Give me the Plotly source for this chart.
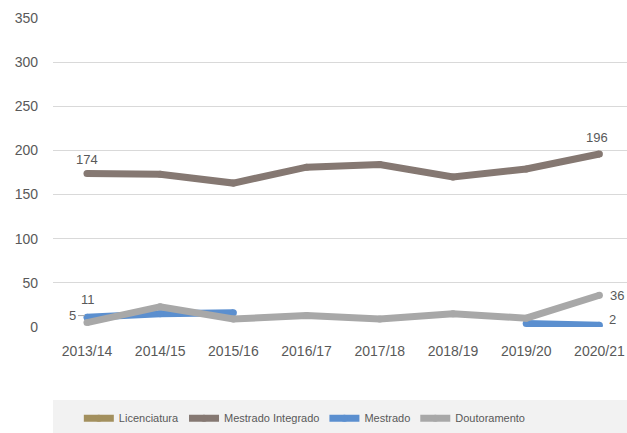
import plotly.graph_objects as go

categories = ["2013/14", "2014/15", "2015/16", "2016/17", "2017/18", "2018/19", "2019/20", "2020/21"]
licenciatura = [None, None, None, None, None, None, None, None]
mestrado_integrado = [174, 173, 163, 181, 184, 170, 179, 196]
mestrado = [11, 15, 16, None, None, None, 4, 2]
doutoramento = [5, 23, 9, 13, 9, 15, 10, 36]
y_ticks = [0, 50, 100, 150, 200, 250, 300, 350]

FONT = "Liberation Sans, Arial, sans-serif"
TXT = "#595959"

series = [
    ("Licenciatura", licenciatura, "#A3905E"),
    ("Mestrado Integrado", mestrado_integrado, "#857872"),
    ("Mestrado", mestrado, "#5B8FCF"),
    ("Doutoramento", doutoramento, "#A8A8A8"),
]

fig = go.Figure()
for name, vals, col in series:
    fig.add_trace(go.Scatter(
        x=categories, y=vals, name=name, mode="lines+markers",
        line=dict(color=col, width=7),
        marker=dict(color=col, size=7, line=dict(width=0)),
        connectgaps=False,
    ))

ann = dict(font=dict(family=FONT, size=13, color=TXT), showarrow=False, xref="x", yref="y")
fig.add_annotation(x=categories[0], y=mestrado_integrado[0], text=str(mestrado_integrado[0]), yshift=14, **ann)
fig.add_annotation(x=categories[-1], y=mestrado_integrado[-1], text=str(mestrado_integrado[-1]), yshift=16, xshift=-2, **ann)
fig.add_annotation(x=categories[0], y=mestrado[0], text=str(mestrado[0]), yshift=18, xshift=1, **ann)
fig.add_annotation(x=categories[-1], y=doutoramento[-1], text=str(doutoramento[-1]), xshift=18, **ann)
fig.add_annotation(x=categories[-1], y=mestrado[-1], text=str(mestrado[-1]), xshift=8, yshift=6, xanchor="left", **ann)
fig.add_annotation(x=categories[0], y=doutoramento[0], text=str(doutoramento[0]), xref="x", yref="y",
                   showarrow=True, arrowhead=0, arrowwidth=1, arrowcolor="#A6A6A6",
                   ax=-14, ay=0, yshift=7, standoff=2,
                   font=dict(family=FONT, size=13, color=TXT))

# legend background band
fig.add_shape(type="rect", xref="paper", yref="paper", x0=0, x1=1, y0=-0.343, y1=-0.236,
              fillcolor="#F2F2F2", line=dict(width=0), layer="below")

fig.update_layout(
    width=627, height=433,
    margin=dict(l=53, r=0, t=18, b=106),
    paper_bgcolor="white", plot_bgcolor="white",
    font=dict(family=FONT, color=TXT),
    showlegend=True,
    legend=dict(orientation="h", x=0.045, xanchor="left", y=-0.295, yanchor="middle",
                bgcolor="rgba(0,0,0,0)", font=dict(family=FONT, size=11, color=TXT),
                itemwidth=30, tracegroupgap=0),
    xaxis=dict(type="category", range=[-0.464, 7.377], showgrid=False, zeroline=False,
               showline=False, tickfont=dict(size=14, color=TXT), ticklabelstandoff=14),
    yaxis=dict(range=[0, 350], tickvals=y_ticks, showgrid=True, gridcolor="#D9D9D9", gridwidth=1,
               zeroline=False, showline=False, tickfont=dict(size=14, color=TXT), ticklabelstandoff=14),
)

fig.write_html("out.html", config={"displayModeBar": False},
               post_script="document.body.style.margin='0';document.body.style.overflow='hidden';")
